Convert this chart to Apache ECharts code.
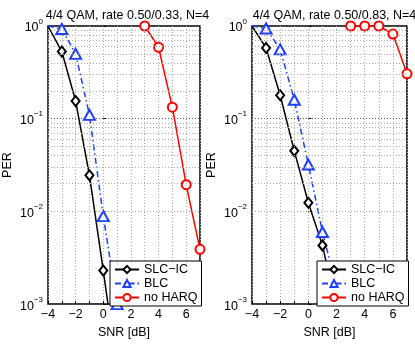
<!DOCTYPE html>
<html>
<head>
<meta charset="utf-8">
<script src="https://cdn.jsdelivr.net/npm/echarts@6/dist/echarts.min.js"></script>
<style>
	html, body { margin: 0; padding: 0; background: #fff; }
	#main { width: 415px; height: 344px; }
</style>
</head>
<body>
<div id="main"></div>
<script>
// values
var titles = ['4/4 QAM, rate 0.50/0.33, N=4', '4/4 QAM, rate 0.50/0.83, N=4'];
var seriesNames = ['SLC\u2212IC', 'BLC', 'no HARQ'];
var minorGrid = [0.002, 0.003, 0.004, 0.005, 0.006, 0.007, 0.008, 0.009,
	0.02, 0.03, 0.04, 0.05, 0.06, 0.07, 0.08, 0.09,
	0.2, 0.3, 0.4, 0.5, 0.6, 0.7, 0.8, 0.9];

// left panel
var snrSlcA = [-4, -3, -2, -1, 0, 1];
var perSlcA = [1.0, 0.53, 0.155, 0.0245, 0.0023, 0.0002];
var snrBlcA = [-4, -3, -2, -1, 0, 1, 2];
var perBlcA = [1.0, 0.93, 0.50, 0.11, 0.0089, 0.001, 0.0001];
var snrHarqA = [3, 4, 5, 6, 7];
var perHarqA = [1.0, 0.59, 0.133, 0.0194, 0.0039];

// right panel
var snrSlcB = [-4, -3, -2, -1, 0, 1, 2];
var perSlcB = [1.0, 0.58, 0.179, 0.045, 0.0124, 0.0043, 0.0009];
var snrBlcB = [-4, -3, -2, -1, 0, 1, 2, 3];
var perBlcB = [1.0, 0.94, 0.56, 0.16, 0.032, 0.006, 0.0015, 0.0002];
var snrHarqB = [3, 4, 5, 6, 7];
var perHarqB = [1.0, 1.0, 1.0, 0.82, 0.305];

var font = 'Liberation Sans, Arial, sans-serif';
var gridLeft = [45, 252];
var gridW = 155;

function pairs(xs, ys) {
	var list = [];
	for (var i = 0; i < xs.length; i++) {
		// first point sits on the frame corner, matlab hides its marker
		if (xs[i] === -4) {
			list.push({ value: [xs[i], ys[i]], symbol: 'none' });
		} else {
			list.push([xs[i], ys[i]]);
		}
	}
	return list;
}

function minus(s) {
	return String(s).replace('-', '\u2212');
}

function makeSeries(idx, name, xs, ys, color, symbol, size, dash) {
	return {
		name: name,
		type: 'line',
		xAxisIndex: idx,
		yAxisIndex: idx,
		data: pairs(xs, ys),
		symbol: symbol,
		symbolSize: size,
		clip: true,
		z: 3,
		lineStyle: { color: color, width: 1.5, type: dash || 'solid' },
		itemStyle: { color: color, borderColor: color, borderWidth: 1.5 },
		emphasis: { disabled: true },
		animation: false
	};
}

var grids = [], xAxes = [], yAxes = [], titleList = [], legends = [];
for (var g = 0; g < 2; g++) {
	grids.push({ left: gridLeft[g], top: 26, width: gridW, height: 286,
		show: true, borderColor: '#000', borderWidth: 1.5, backgroundColor: '#fff' });
	titleList.push({
		text: titles[g], left: gridLeft[g] + gridW / 2, top: 4, textAlign: 'center',
		textStyle: { fontFamily: font, fontSize: 12.5, fontWeight: 'normal', color: '#000' }
	});
	xAxes.push({
		type: 'value', gridIndex: g, min: -4, max: 7, interval: 1,
		name: 'SNR [dB]', nameLocation: 'middle', nameGap: 21,
		nameTextStyle: { fontFamily: font, fontSize: 12.5, color: '#000' },
		axisLine: { show: false },
		axisTick: { inside: true, length: 3, lineStyle: { color: '#000' } },
		axisLabel: {
			fontFamily: font, fontSize: 12.5, color: '#000', margin: 4,
			formatter: function (v) {
				return (v % 2 === 0) ? minus(v) : '';
			}
		},
		splitLine: { show: true, lineStyle: { color: '#aaa', type: [1, 2], width: 1 } }
	});
	yAxes.push({
		type: 'log', logBase: 10, gridIndex: g, min: 0.001, max: 1,
		name: 'PER', nameLocation: 'middle', nameGap: 34,
		nameTextStyle: { fontFamily: font, fontSize: 12.5, color: '#000' },
		axisLine: { show: false },
		axisTick: { inside: true, length: 3, lineStyle: { color: '#000' } },
		axisLabel: {
			fontFamily: font, color: '#000', margin: 5,
			formatter: function (v) {
				var e = Math.round(Math.log(v) / Math.LN10);
				return '{b|10}{s|' + minus(e) + '}';
			},
			rich: {
				b: { fontFamily: font, fontSize: 12.5, color: '#000', lineHeight: 17, verticalAlign: 'bottom' },
				s: { fontFamily: font, fontSize: 8, color: '#000', lineHeight: 17, verticalAlign: 'top' }
			}
		},
		splitLine: { show: true, lineStyle: { color: '#555', type: [1, 2], width: 1 } }
	});
}

legends.push({
	data: seriesNames, orient: 'vertical', left: 110, top: 261,
	padding: [2, 4, 2, 4], itemGap: 1, itemWidth: 24, itemHeight: 9,
	borderColor: '#000', borderWidth: 1, backgroundColor: '#fff',
	textStyle: { fontFamily: font, fontSize: 12.5, color: '#000' },
	selectedMode: false
});
legends.push({
	data: seriesNames, orient: 'vertical', left: 317, top: 261,
	padding: [2, 4, 2, 4], itemGap: 1, itemWidth: 24, itemHeight: 9,
	borderColor: '#000', borderWidth: 1, backgroundColor: '#fff',
	textStyle: { fontFamily: font, fontSize: 12.5, color: '#000' },
	selectedMode: false
});

var dashDot = [6, 3, 1.5, 3];
var series = [
	makeSeries(0, seriesNames[0], snrSlcA, perSlcA, '#000', 'emptyDiamond', [8, 10]),
	makeSeries(0, seriesNames[1], snrBlcA, perBlcA, '#1f3fff', 'emptyTriangle', [11, 10], dashDot),
	makeSeries(0, seriesNames[2], snrHarqA, perHarqA, '#ff0000', 'emptyCircle', 9),
	makeSeries(1, seriesNames[0], snrSlcB, perSlcB, '#000', 'emptyDiamond', [8, 10]),
	makeSeries(1, seriesNames[1], snrBlcB, perBlcB, '#1f3fff', 'emptyTriangle', [11, 10], dashDot),
	makeSeries(1, seriesNames[2], snrHarqB, perHarqB, '#ff0000', 'emptyCircle', 9)
];

// matlab style minor grid of the log axis (2..9 in every decade)
for (var k = 0; k < 2; k++) {
	var lines = [];
	for (var m = 0; m < minorGrid.length; m++) {
		lines.push({ yAxis: minorGrid[m] });
	}
	series.push({
		type: 'line', xAxisIndex: k, yAxisIndex: k, data: [], silent: true, z: 1,
		markLine: {
			silent: true, symbol: 'none', animation: false,
			label: { show: false },
			lineStyle: { color: '#aaa', type: [1, 2], width: 1 },
			data: lines
		}
	});
}

var chart = echarts.init(document.getElementById('main'), null, { renderer: 'canvas' });
chart.setOption({
	animation: false,
	backgroundColor: '#fff',
	title: titleList,
	legend: legends,
	grid: grids,
	xAxis: xAxes,
	yAxis: yAxes,
	series: series
});
</script>
</body>
</html>
